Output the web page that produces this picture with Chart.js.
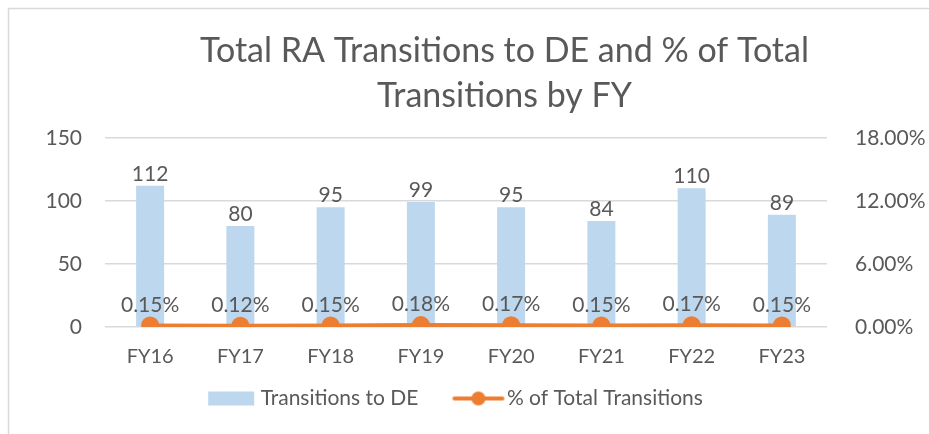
<!DOCTYPE html>
<html>
<head>
<meta charset="utf-8">
<script src="https://cdn.jsdelivr.net/npm/chart.js@4"></script>
<style>
  html, body { margin: 0; padding: 0; background: #fff; }
  #wrap { width: 929px; height: 434px; }
</style>
</head>
<body>
<div id="wrap"><canvas id="fyChart" width="929" height="434"></canvas></div>
<script>
let years = ["FY16", "FY17", "FY18", "FY19", "FY20", "FY21", "FY22", "FY23"]
let transitions = [112, 80, 95, 99, 95, 84, 110, 89]
let pctOfTotal = [0.15, 0.12, 0.15, 0.18, 0.17, 0.15, 0.17, 0.15]
let leftTicks = [0, 50, 100, 150]
let rightTicks = [0, 6, 12, 18]

let textGray = "#595959"
let fontName = "Lato, 'Open Sans', sans-serif"

// legend swatches (drawn a bit off-centre so text sits close like in Excel)
function swatch(kind) {
    let c = document.createElement("canvas")
    c.width = 70
    c.height = 16
    let g = c.getContext("2d")
    if (kind === "bar") {
        g.fillStyle = "#BDD7EE"
        g.fillRect(16, 1, 46, 14)
    } else {
        g.strokeStyle = "#ED7D31"
        g.lineWidth = 4
        g.lineCap = "round"
        g.beginPath()
        g.moveTo(16, 8)
        g.lineTo(64, 8)
        g.stroke()
        g.fillStyle = "#ED7D31"
        g.beginPath()
        g.arc(40, 8, 7, 0, Math.PI * 2)
        g.fill()
    }
    return c
}

let frame = {
    id: "frame",
    beforeDraw(chart) {
        let g = chart.ctx
        g.save()
        g.strokeStyle = "#D9D9D9"
        g.lineWidth = 1.5
        g.beginPath()
        g.moveTo(8.5, 440)
        g.lineTo(8.5, 8.5)
        g.lineTo(940, 8.5)
        g.stroke()
        g.restore()
    }
}

// Excel puts the title a little right of centre and the legend a little left
let nudge = {
    id: "nudge",
    afterLayout(chart) {
        if (chart.titleBlock) {
            chart.titleBlock.left += 35
            chart.titleBlock.right += 35
        }
        if (chart.legend) {
            chart.legend.left -= 16
            chart.legend.right -= 16
            chart.legend.top -= 11
            chart.legend.bottom -= 11
        }
    }
}

let valueLabels = {
    id: "valueLabels",
    afterDatasetsDraw(chart) {
        let g = chart.ctx
        g.save()
        g.font = "21px " + fontName
        g.fillStyle = textGray
        g.textAlign = "center"
        g.textBaseline = "bottom"
        chart.getDatasetMeta(1).data.forEach(function (el, i) {
            g.fillText(String(transitions[i]), el.x, el.y - 1)
        })
        chart.getDatasetMeta(0).data.forEach(function (el, i) {
            g.fillText(pctOfTotal[i].toFixed(2) + "%", el.x, el.y - 10)
        })
        g.restore()
    }
}

let ctx = document.getElementById("fyChart").getContext("2d")
let chart = new Chart(ctx, {
    data: {
        labels: years,
        datasets: [
            {
                type: "line",
                label: "% of Total Transitions",
                data: pctOfTotal,
                yAxisID: "yRight",
                borderColor: "#ED7D31",
                backgroundColor: "#ED7D31",
                borderWidth: 4,
                pointRadius: 7,
                pointHoverRadius: 7,
                pointStyle: "circle",
                order: 0
            },
            {
                type: "bar",
                label: "Transitions to DE",
                data: transitions,
                yAxisID: "yLeft",
                backgroundColor: "#BDD7EE",
                barPercentage: 0.62,
                categoryPercentage: 0.5,
                order: 1
            }
        ]
    },
    options: {
        responsive: false,
        animation: false,
        layout: { padding: { top: 29, left: 10, right: 0, bottom: 4 } },
        plugins: {
            title: {
                display: true,
                text: ["Total RA Transitions to DE and % of Total", "Transitions by FY"],
                color: textGray,
                font: { family: fontName, size: 34, weight: "normal", lineHeight: 1.32 },
                padding: { top: 0, bottom: 19 }
            },
            legend: {
                position: "bottom",
                labels: {
                    color: textGray,
                    font: { family: fontName, size: 21 },
                    usePointStyle: true,
                    pointStyleWidth: 46,
                    boxHeight: 16,
                    padding: 32,
                    generateLabels: function (ch) {
                        return [
                            { text: "Transitions to DE", pointStyle: swatch("bar"), fontColor: textGray, datasetIndex: 1, lineWidth: 0, strokeStyle: "transparent" },
                            { text: "% of Total Transitions", pointStyle: swatch("line"), fontColor: textGray, datasetIndex: 0, lineWidth: 0, strokeStyle: "transparent" }
                        ]
                    }
                }
            },
            tooltip: { enabled: false }
        },
        scales: {
            x: {
                grid: { display: false },
                border: { display: false },
                ticks: { color: textGray, font: { family: fontName, size: 20 }, padding: 10 },
                afterFit: function (s) { s.height = 40 }
            },
            yLeft: {
                position: "left",
                min: 0,
                max: 150,
                afterBuildTicks: function (s) { s.ticks = leftTicks.map(function (v) { return { value: v } }) },
                grid: { color: "#D9D9D9", lineWidth: 1.5, drawTicks: false },
                border: { display: false },
                ticks: { color: textGray, font: { family: fontName, size: 21 }, padding: 23 },
                afterFit: function (s) { s.width = 95 }
            },
            yRight: {
                position: "right",
                min: 0,
                max: 18,
                afterBuildTicks: function (s) { s.ticks = rightTicks.map(function (v) { return { value: v } }) },
                grid: { display: false },
                border: { display: false },
                ticks: {
                    color: textGray,
                    font: { family: fontName, size: 21 },
                    padding: 20,
                    callback: function (v) { return v.toFixed(2) + "%" }
                },
                afterFit: function (s) { s.width = 102 }
            }
        }
    },
    plugins: [frame, nudge, valueLabels]
})
</script>
</body>
</html>
